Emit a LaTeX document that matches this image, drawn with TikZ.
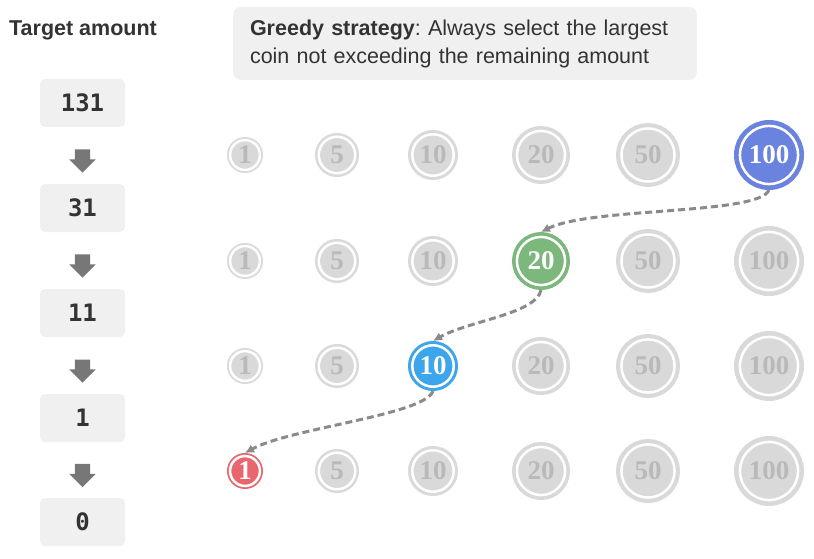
\documentclass[tikz,border=0pt]{standalone}
\usepackage{fontspec}
\setmainfont{Liberation Sans}
\setmonofont{DejaVu Sans Mono}
\newfontfamily\coinfont{Liberation Serif}
\usetikzlibrary{arrows.meta,positioning,shapes.arrows,calc}
\definecolor{panel}{HTML}{F0F0F0}
\definecolor{ink}{HTML}{333333}
\definecolor{arrowgray}{HTML}{777777}
\definecolor{coingray}{HTML}{D9D9D9}
\definecolor{coinink}{HTML}{B9B9B9}
\definecolor{flowgray}{HTML}{8A8A8A}
\definecolor{pickblue}{HTML}{6A83DF}
\definecolor{pickgreen}{HTML}{7CB87C}
\definecolor{picksky}{HTML}{3DA5EC}
\definecolor{pickred}{HTML}{E9666F}
\frenchspacing

\begin{document}
\begin{tikzpicture}[
  x=1pt,y=1pt,
  amount/.style={fill=panel,rounded corners=5pt,minimum width=85pt,
                 minimum height=48pt,text=ink,
                 font=\ttfamily\bfseries\fontsize{24}{26}\selectfont},
  stepdown/.style={single arrow,fill=arrowgray,inner sep=7.5pt,
                   minimum height=20pt,single arrow head extend=5.5pt,
                   shape border rotate=270},
  coin/.style={circle,inner sep=0pt,minimum size={2*(#1-0.17*#1)},
               outer sep={0.17*#1},fill=coingray,draw=coingray,
               line width={0.17*#1-1.25},double=white,double distance=2.5pt,
               text=coinink,font=\coinfont\bfseries\fontsize{27}{27}\selectfont},
  pick/.style={fill=#1,draw=#1,text=white},
  pick 1-6/.style={pick=pickblue},
  pick 2-4/.style={pick=pickgreen},
  pick 3-3/.style={pick=picksky},
  pick 4-1/.style={pick=pickred},
  flow/.style={-{Latex[length=9pt,width=9pt]},dash pattern=on 7pt off 4pt,
               line width=3pt,draw=flowgray}
]
\useasboundingbox (0,0) rectangle (814,-559);

% left column: remaining amount
\node[font=\bfseries\fontsize{21.5}{25}\selectfont,text=ink] (title) at (83,-30)
  {Target amount};
\node[amount] (b1) at (82.5,-103) {131};
\node[amount] (b2) at (82.5,-208) {31};
\node[amount] (b3) at (82.5,-313) {11};
\node[amount] (b4) at (82.5,-418) {1};
\node[amount] (b5) at (82.5,-522) {0};
\node[stepdown] (d1) at ($(b1.south)!0.53!(b2.north)$) {};
\node[stepdown] (d2) at ($(b2.south)!0.53!(b3.north)$) {};
\node[stepdown] (d3) at ($(b3.south)!0.53!(b4.north)$) {};
\node[stepdown] (d4) at ($(b4.south)!0.53!(b5.north)$) {};

% strategy note
\node[fill=panel,rounded corners=8pt,minimum width=464pt,minimum height=73pt,
      text width=430pt,align=left,text=ink,
      font=\fontsize{21.5}{28}\selectfont] (note) at (465,-43.5)
  {\textbf{Greedy strategy}: Always select the largest\\
   coin not exceeding the remaining amount};

% coin grid
\foreach \v/\r/\x [count=\c] in {1/18/245,5/22/337,10/25/433,20/29/541,
                                 50/32/648,100/35/769}
  \foreach \y [count=\k] in {155,261,366,471}
    \node[coin=\r,pick \k-\c/.try] (c\k-\c) at (\x,-\y) {\v};

% greedy choices
\draw[flow] (c1-6.south) .. controls +(-10,-25) and +(50,25) .. (c2-4.north);
\draw[flow] (c2-4.south) .. controls +(-5,-24) and +(35,20) .. (c3-3.north);
\draw[flow] (c3-3.south) .. controls +(-8,-24) and +(45,25) .. (c4-1.north);
\end{tikzpicture}
\end{document}
